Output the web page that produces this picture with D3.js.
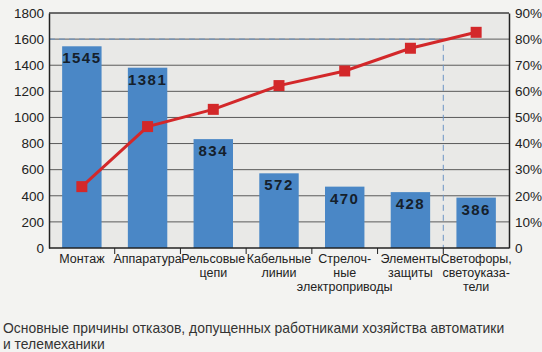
<!DOCTYPE html>
<html>
<head>
<meta charset="utf-8">
<script src="https://cdn.jsdelivr.net/npm/d3@7"></script>
<style>
  body { margin: 0; background: #f3f3f1; }
  svg { display: block; }
</style>
</head>
<body>
<svg id="chart"></svg>
<script>
// Pareto: причины отказов
const categories = [
    ["Монтаж"],
    ["Аппаратура"],
    ["Рельсовые", "цепи"],
    ["Кабельные", "линии"],
    ["Стрелоч-", "ные", "электроприводы"],
    ["Элементы", "защиты"],
    ["Светофоры,", "светоуказа-", "тели"]
];
const counts = [1545, 1381, 834, 572, 470, 428, 386];
const cumulative = [23.5, 46.5, 53.1, 62.2, 67.8, 76.5, 82.6];
const leftTicks = [0, 200, 400, 600, 800, 1000, 1200, 1400, 1600, 1800];
const rightTicks = [0, 10, 20, 30, 40, 50, 60, 70, 80, 90];
const captionLines = [
    "Основные причины отказов, допущенных работниками хозяйства автоматики",
    "и телемеханики"
];

const margin = { top: 13, right: 33, bottom: 104, left: 49 },
    width = 542 - margin.left - margin.right,
    height = 352 - margin.top - margin.bottom;

const root = d3.select("#chart")
    .attr("width", 542)
    .attr("height", 352);

const svg = root.append("g")
    .attr("transform", `translate(${margin.left},${margin.top})`);

const x = d3.scaleBand().domain(d3.range(categories.length)).range([0, width]).paddingInner(0.4).paddingOuter(0.2);
const y = d3.scaleLinear().domain([0, 1800]).range([height, 0]);
const yPct = d3.scaleLinear().domain([0, 90]).range([height, 0]);

const fontAxis = "'Liberation Sans', Arial, Helvetica, sans-serif";

svg.append("rect")
    .attr("width", width)
    .attr("height", height)
    .attr("fill", "#e9e9e7");

// grid
svg.selectAll(".grid")
    .data(leftTicks.slice(1))
    .enter().append("line")
    .attr("x1", 0)
    .attr("x2", width)
    .attr("y1", d => y(d))
    .attr("y2", d => y(d))
    .attr("stroke", "#5a5a5a")
    .attr("stroke-width", 1);

// bars
svg.selectAll(".bar")
    .data(counts)
    .enter().append("rect")
    .attr("x", (d, i) => x(i))
    .attr("y", d => y(d))
    .attr("width", x.bandwidth())
    .attr("height", d => height - y(d))
    .attr("fill", "#4a87c6");

svg.selectAll(".bar-label")
    .data(counts)
    .enter().append("text")
    .attr("x", (d, i) => x(i) + x.bandwidth() / 2)
    .attr("y", d => y(d) + 17)
    .attr("text-anchor", "middle")
    .style("font-family", fontAxis)
    .style("font-size", "15px")
    .style("font-weight", "bold")
    .style("letter-spacing", "1.5px")
    .style("fill", "#15202b")
    .text(d => d);

// 80% reference
const step = width / categories.length;
svg.append("path")
    .attr("d", `M0,${y(1600)}H${step * 6}V${height}`)
    .attr("fill", "none")
    .attr("stroke", "#6b93c4")
    .attr("stroke-width", 1)
    .attr("stroke-dasharray", "6,4");

// cumulative line
const line = d3.line()
    .x((d, i) => x(i) + x.bandwidth() / 2)
    .y(d => yPct(d));

svg.append("path")
    .datum(cumulative)
    .attr("d", line)
    .attr("fill", "none")
    .attr("stroke", "#d3282a")
    .attr("stroke-width", 3);

svg.selectAll(".pt")
    .data(cumulative)
    .enter().append("rect")
    .attr("x", (d, i) => x(i) + x.bandwidth() / 2 - 5.5)
    .attr("y", d => yPct(d) - 5.5)
    .attr("width", 11)
    .attr("height", 11)
    .attr("fill", "#d3282a");

// frame
svg.append("line")
    .attr("x1", 0).attr("x2", width)
    .attr("y1", 0).attr("y2", 0)
    .attr("stroke", "#333").attr("stroke-width", 1.2);

// axes
const yAxis = svg.append("g")
    .call(d3.axisLeft(y).tickValues(leftTicks).tickSize(0).tickPadding(5).tickFormat(d3.format("d")));
yAxis.select(".domain").attr("stroke", "#222").attr("stroke-width", 1.5);
yAxis.selectAll("text").style("font-family", fontAxis).style("font-size", "13.5px").style("fill", "#222");

const yAxisR = svg.append("g")
    .attr("transform", `translate(${width},0)`)
    .call(d3.axisRight(yPct).tickValues(rightTicks).tickSize(0).tickPadding(6)
        .tickFormat(d => d === 0 ? "0" : d + "%"));
yAxisR.select(".domain").attr("stroke", "#222").attr("stroke-width", 1.5);
yAxisR.selectAll("text").style("font-family", fontAxis).style("font-size", "13.5px").style("fill", "#222");

const xAxis = svg.append("g")
    .attr("transform", `translate(0,${height})`);
xAxis.append("line")
    .attr("x1", 0).attr("x2", width)
    .attr("stroke", "#222").attr("stroke-width", 1.5);
xAxis.selectAll(".tick")
    .data(d3.range(1, categories.length))
    .enter().append("line")
    .attr("x1", d => d * step).attr("x2", d => d * step)
    .attr("y1", 0).attr("y2", 6)
    .attr("stroke", "#222");

const labels = xAxis.selectAll(".cat")
    .data(categories)
    .enter().append("text")
    .attr("x", (d, i) => x(i) + x.bandwidth() / 2)
    .attr("y", 15)
    .attr("text-anchor", "middle")
    .style("font-family", fontAxis)
    .style("font-size", "12.5px")
    .style("fill", "#222");

labels.selectAll("tspan")
    .data(d => d)
    .enter().append("tspan")
    .attr("x", function () { return this.parentNode.getAttribute("x"); })
    .attr("dy", (d, i) => i === 0 ? 0 : 14)
    .text(d => d);

// caption
root.append("g")
    .selectAll("text")
    .data(captionLines)
    .enter().append("text")
    .attr("x", 3)
    .attr("y", (d, i) => 333 + i * 15.5)
    .style("font-family", fontAxis)
    .style("font-size", "13.9px")
    .style("fill", "#333")
    .text(d => d);
</script>
</body>
</html>
